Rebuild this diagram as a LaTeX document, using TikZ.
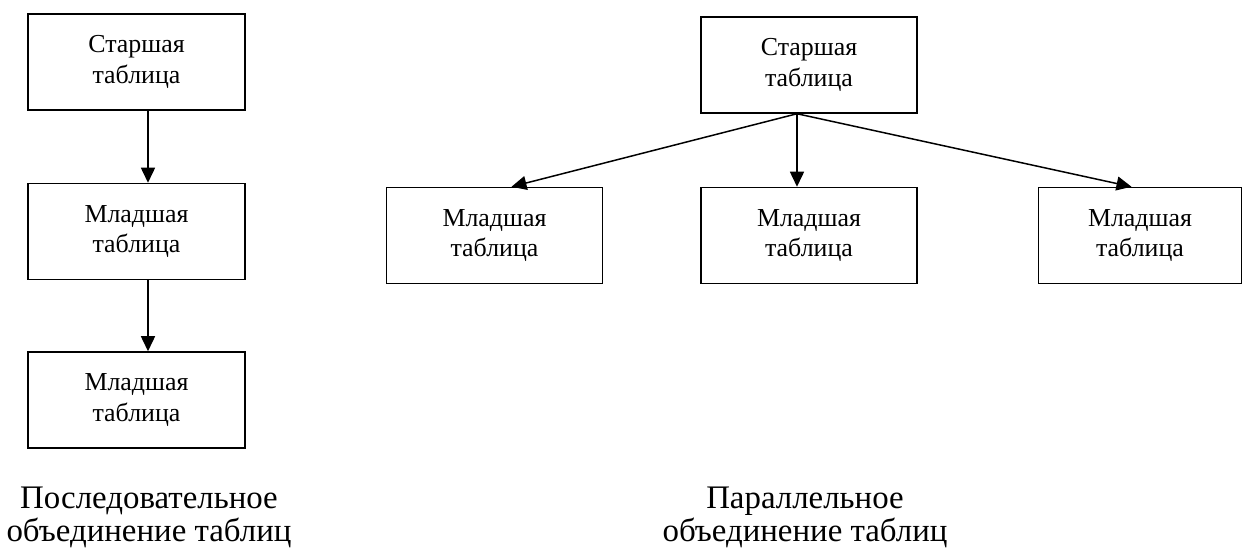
\documentclass[tikz,border=0pt]{standalone}
\usepackage{fontspec}
\setmainfont{Liberation Serif}
\usetikzlibrary{arrows.meta, positioning}

\begin{document}
\begin{tikzpicture}[x=1bp, y=-1bp, node distance=72bp]
    \tikzstyle{tbl} = [rectangle, draw, line width=1.5pt, minimum width=217bp, minimum height=96bp, align=center, inner sep=0pt, font=\fontsize{26}{31}\selectfont]
    \tikzstyle{caption} = [align=center, inner sep=0pt, font=\fontsize{33}{33}\selectfont]
    \tikzstyle{arrow} = [line width=1.5pt, -{Triangle[length=15bp, width=14bp]}]

    \useasboundingbox (0,0) rectangle (1242,549);

    % sequential join
    \node[tbl] (seqtop) at (136.5,62) {Старшая\\таблица};
    \node[tbl, below=72bp of seqtop] (seqmid) {Младшая\\таблица};
    \node[tbl, below=71bp of seqmid] (seqbot) {Младшая\\таблица};
    \node[caption] (seqcap) at (149,517) {Последовательное\\объединение таблиц};

    \draw[arrow] ([xshift=11.5bp]seqtop.south) -- ([xshift=11.5bp]seqmid.north);
    \draw[arrow] ([xshift=11.5bp]seqmid.south) -- ([xshift=11.5bp]seqbot.north);

    % parallel join
    \node[tbl, minimum width=216bp] (partop) at (809,65) {Старшая\\таблица};
    \node[tbl, minimum width=216bp, below=73bp of partop] (parmid) {Младшая\\таблица};
    \node[tbl, minimum width=216bp, left=97bp of parmid] (parleft) {Младшая\\таблица};
    \node[tbl, minimum width=203bp, right=120bp of parmid] (parright) {Младшая\\таблица};
    \node[caption] (parcap) at (805,517) {Параллельное\\объединение таблиц};

    \coordinate (fork) at ([xshift=-12bp]partop.south);
    \draw[arrow] (fork) -- (fork |- parmid.north);
    \draw[arrow] (fork) -- ([xshift=17bp]parleft.north);
    \draw[arrow] (fork) -- ([xshift=-8.5bp]parright.north);
\end{tikzpicture}
\end{document}
